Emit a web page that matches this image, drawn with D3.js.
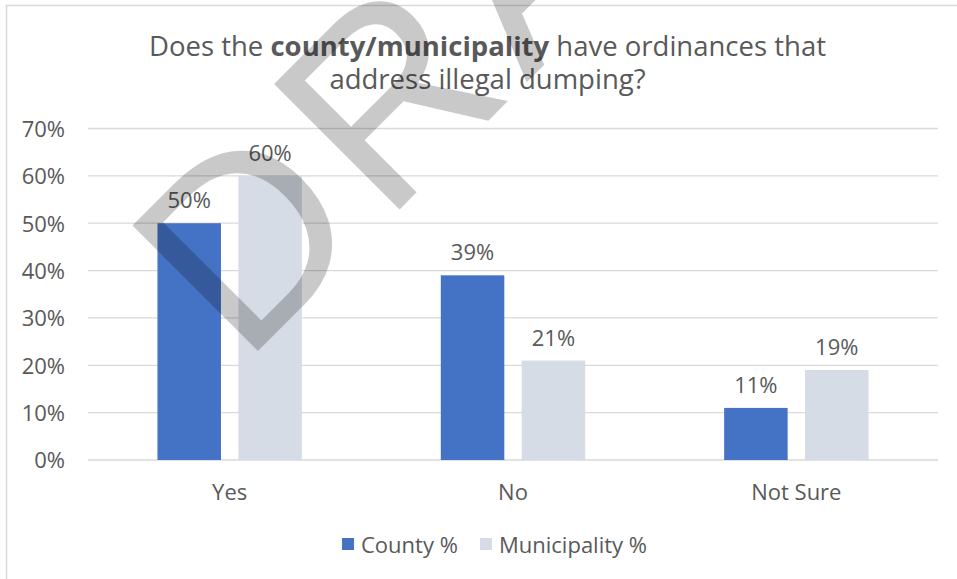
<!DOCTYPE html>
<html>
<head>
<meta charset="utf-8">
<script src="https://cdn.jsdelivr.net/npm/d3@7"></script>
<style>
  html, body { margin: 0; padding: 0; background: #fff; }
  svg { display: block; }
</style>
</head>
<body>
<script>
// Survey answers by jurisdiction type
const categories = ["Yes", "No", "Not Sure"];
const seriesNames = ["County %", "Municipality %"];
const countyValues = [50, 39, 11];
const municipalityValues = [60, 21, 19];
const yTicks = [0, 10, 20, 30, 40, 50, 60, 70];

const W = 957, H = 579;
const plot = { left: 88, right: 938, top: 128.5, bottom: 460 };
const colors = ["#4472C4", "#D6DCE5"];
const textColor = "#595959";
const font = "'Open Sans', 'Noto Sans', sans-serif";
const labelSize = 22;

const svg = d3.select("body").append("svg")
  .attr("width", W).attr("height", H);

// chart frame
svg.append("rect")
  .attr("x", 6.5).attr("y", 5.5)
  .attr("width", W + 20).attr("height", H + 20)
  .attr("fill", "#fff").attr("stroke", "#D9D9D9").attr("stroke-width", 1.5);

// title
const title = svg.append("g")
  .attr("font-family", font).attr("font-size", 27.5).attr("fill", textColor)
  .attr("text-anchor", "middle");
const t1 = title.append("text").attr("x", 487.5).attr("y", 56);
t1.append("tspan").text("Does the ");
t1.append("tspan").attr("font-weight", "bold").text("county/municipality");
t1.append("tspan").text(" have ordinances that");
title.append("text").attr("x", 487.5).attr("y", 89).text("address illegal dumping?");

// scales
const y = d3.scaleLinear().domain([0, 70]).range([plot.bottom, plot.top]);
const x0 = d3.scaleBand().domain(categories).range([plot.left, plot.right]).padding(0);
const groupW = 144.4;
const x1 = d3.scaleBand().domain(seriesNames)
  .range([(x0.bandwidth() - groupW) / 2, (x0.bandwidth() + groupW) / 2])
  .paddingInner(0.215).paddingOuter(0);

// gridlines
svg.append("g")
  .selectAll("line").data(yTicks).join("line")
  .attr("x1", plot.left).attr("x2", plot.right)
  .attr("y1", d => y(d)).attr("y2", d => y(d))
  .attr("stroke", "#D9D9D9").attr("stroke-width", 1.3);

// y axis labels
const yAxis = d3.axisLeft(y).tickValues(yTicks).tickFormat(d => d + "%").tickSize(0).tickPadding(0);
const yg = svg.append("g").attr("transform", `translate(65,0)`).call(yAxis);
yg.select(".domain").remove();
yg.selectAll("text").attr("font-family", font).attr("font-size", labelSize)
  .attr("fill", textColor).attr("dy", "0.36em");

// bars
const rows = categories.map((c, i) => ({
  cat: c,
  vals: [
    { s: seriesNames[0], v: countyValues[i], c: colors[0] },
    { s: seriesNames[1], v: municipalityValues[i], c: colors[1] }
  ]
}));

const groups = svg.append("g").selectAll("g").data(rows).join("g")
  .attr("transform", d => `translate(${x0(d.cat)},0)`);

groups.selectAll("rect").data(d => d.vals).join("rect")
  .attr("x", d => x1(d.s)).attr("width", x1.bandwidth())
  .attr("y", d => y(d.v)).attr("height", d => y(0) - y(d.v))
  .attr("fill", d => d.c);

groups.selectAll("text.val").data(d => d.vals).join("text")
  .attr("class", "val")
  .attr("x", d => x1(d.s) + x1.bandwidth() / 2)
  .attr("y", d => y(d.v) - 15)
  .attr("text-anchor", "middle")
  .attr("font-family", font).attr("font-size", labelSize).attr("fill", textColor)
  .text(d => d.v + "%");

// category axis
const xAxis = d3.axisBottom(x0).tickSize(0).tickPadding(0);
const xg = svg.append("g").attr("transform", `translate(0,${plot.bottom})`).call(xAxis);
xg.select(".domain").remove();
xg.selectAll("text").attr("font-family", font).attr("font-size", labelSize)
  .attr("fill", textColor).attr("dy", 0).attr("y", 40);

// legend
const legendItems = [
  { name: seriesNames[0], c: colors[0], x: 342 },
  { name: seriesNames[1], c: colors[1], x: 480 }
];
const lg = svg.append("g").selectAll("g").data(legendItems).join("g")
  .attr("transform", d => `translate(${d.x},538)`);
lg.append("rect").attr("width", 12).attr("height", 12).attr("fill", d => d.c);
lg.append("text").attr("x", 19).attr("y", 14.5)
  .attr("font-family", font).attr("font-size", labelSize).attr("fill", textColor)
  .text(d => d.name);

// watermark
svg.append("text")
  .attr("transform", "translate(243,366) rotate(-45)")
  .attr("font-family", "'Liberation Sans', Arial, sans-serif")
  .attr("font-size", 258)
  .attr("letter-spacing", 14)
  .attr("fill", "#000").attr("fill-opacity", 0.21)
  .text("DRAFT");
</script>
</body>
</html>
